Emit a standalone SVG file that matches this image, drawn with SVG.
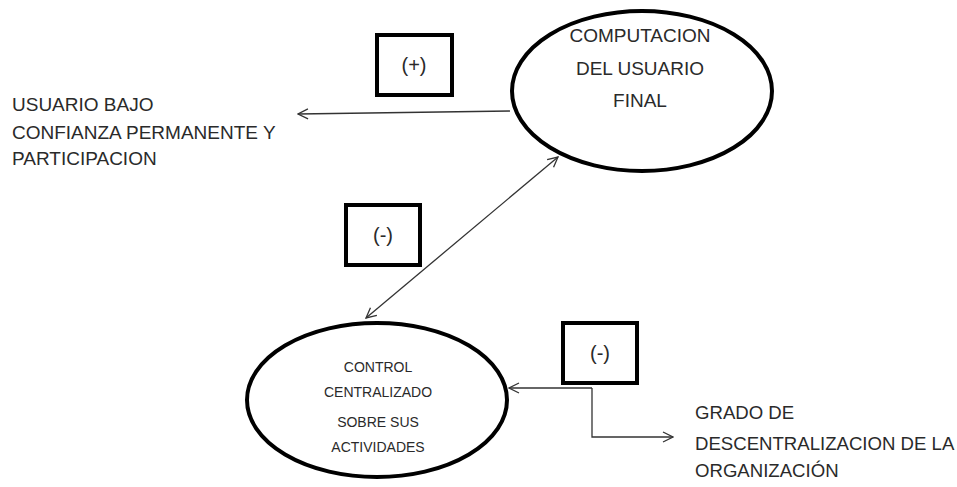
<svg xmlns="http://www.w3.org/2000/svg" width="957" height="487" viewBox="0 0 957 487">
<defs>
<style>
.t{font-family:"Liberation Sans",Arial,sans-serif;fill:#2a2a2a}
.big{font-size:19px}
.mid{font-size:18.6px}
.sm{font-size:14px}
.sg{font-size:20px}
.c{text-anchor:middle}
.oval{fill:none;stroke:#000;stroke-width:4}
.box{fill:#fff;stroke:#000;stroke-width:4}
.ln{fill:none;stroke:#333;stroke-width:1.3}
</style>
<marker id="ah" viewBox="0 0 12 12" refX="11" refY="6" markerWidth="12" markerHeight="12" markerUnits="userSpaceOnUse" orient="auto-start-reverse">
<path d="M1,1 L11,6 L1,11" fill="none" stroke="#333" stroke-width="1.3"/>
</marker>
</defs>
<rect width="957" height="487" fill="#fff"/>
<g id="connectors">
<path class="ln" d="M510,111 L298,114" marker-end="url(#ah)"/>
<path class="ln" d="M558,157 L366,318" marker-start="url(#ah)" marker-end="url(#ah)"/>
<path class="ln" d="M592,388 L509,388" marker-end="url(#ah)"/>
<path class="ln" d="M592,388 L592,437 L673,437" marker-end="url(#ah)"/>
</g>
<g id="computacion">
<ellipse class="oval" cx="642" cy="91" rx="130" ry="80"/>
<text class="t big c" x="640" y="42">COMPUTACION</text>
<text class="t big c" x="640" y="75">DEL USUARIO</text>
<text class="t big c" x="640" y="107">FINAL</text>
</g>
<g id="usuario">
<text class="t big" x="12" y="111">USUARIO BAJO</text>
<text class="t big" x="12" y="139">CONFIANZA PERMANENTE Y</text>
<text class="t big" x="12" y="165">PARTICIPACION</text>
</g>
<g id="control">
<ellipse class="oval" cx="377" cy="400" rx="130" ry="77"/>
<text class="t sm c" x="378" y="372">CONTROL</text>
<text class="t sm c" x="378" y="397">CENTRALIZADO</text>
<text class="t sm c" x="378" y="427">SOBRE SUS</text>
<text class="t sm c" x="378" y="452">ACTIVIDADES</text>
</g>
<g id="grado">
<text class="t mid" x="695" y="419">GRADO DE</text>
<text class="t mid" x="695" y="450">DESCENTRALIZACION DE LA</text>
<text class="t mid" x="695" y="477">ORGANIZACIÓN</text>
</g>
<g id="sign-plus">
<rect class="box" x="377" y="35" width="75" height="60"/>
<text class="t sg c" x="414" y="72">(+)</text>
</g>
<g id="sign-minus-1">
<rect class="box" x="346" y="205" width="74" height="60"/>
<text class="t sg c" x="383" y="242">(-)</text>
</g>
<g id="sign-minus-2">
<rect class="box" x="563" y="323" width="74" height="60"/>
<text class="t sg c" x="600" y="360">(-)</text>
</g>
</svg>
